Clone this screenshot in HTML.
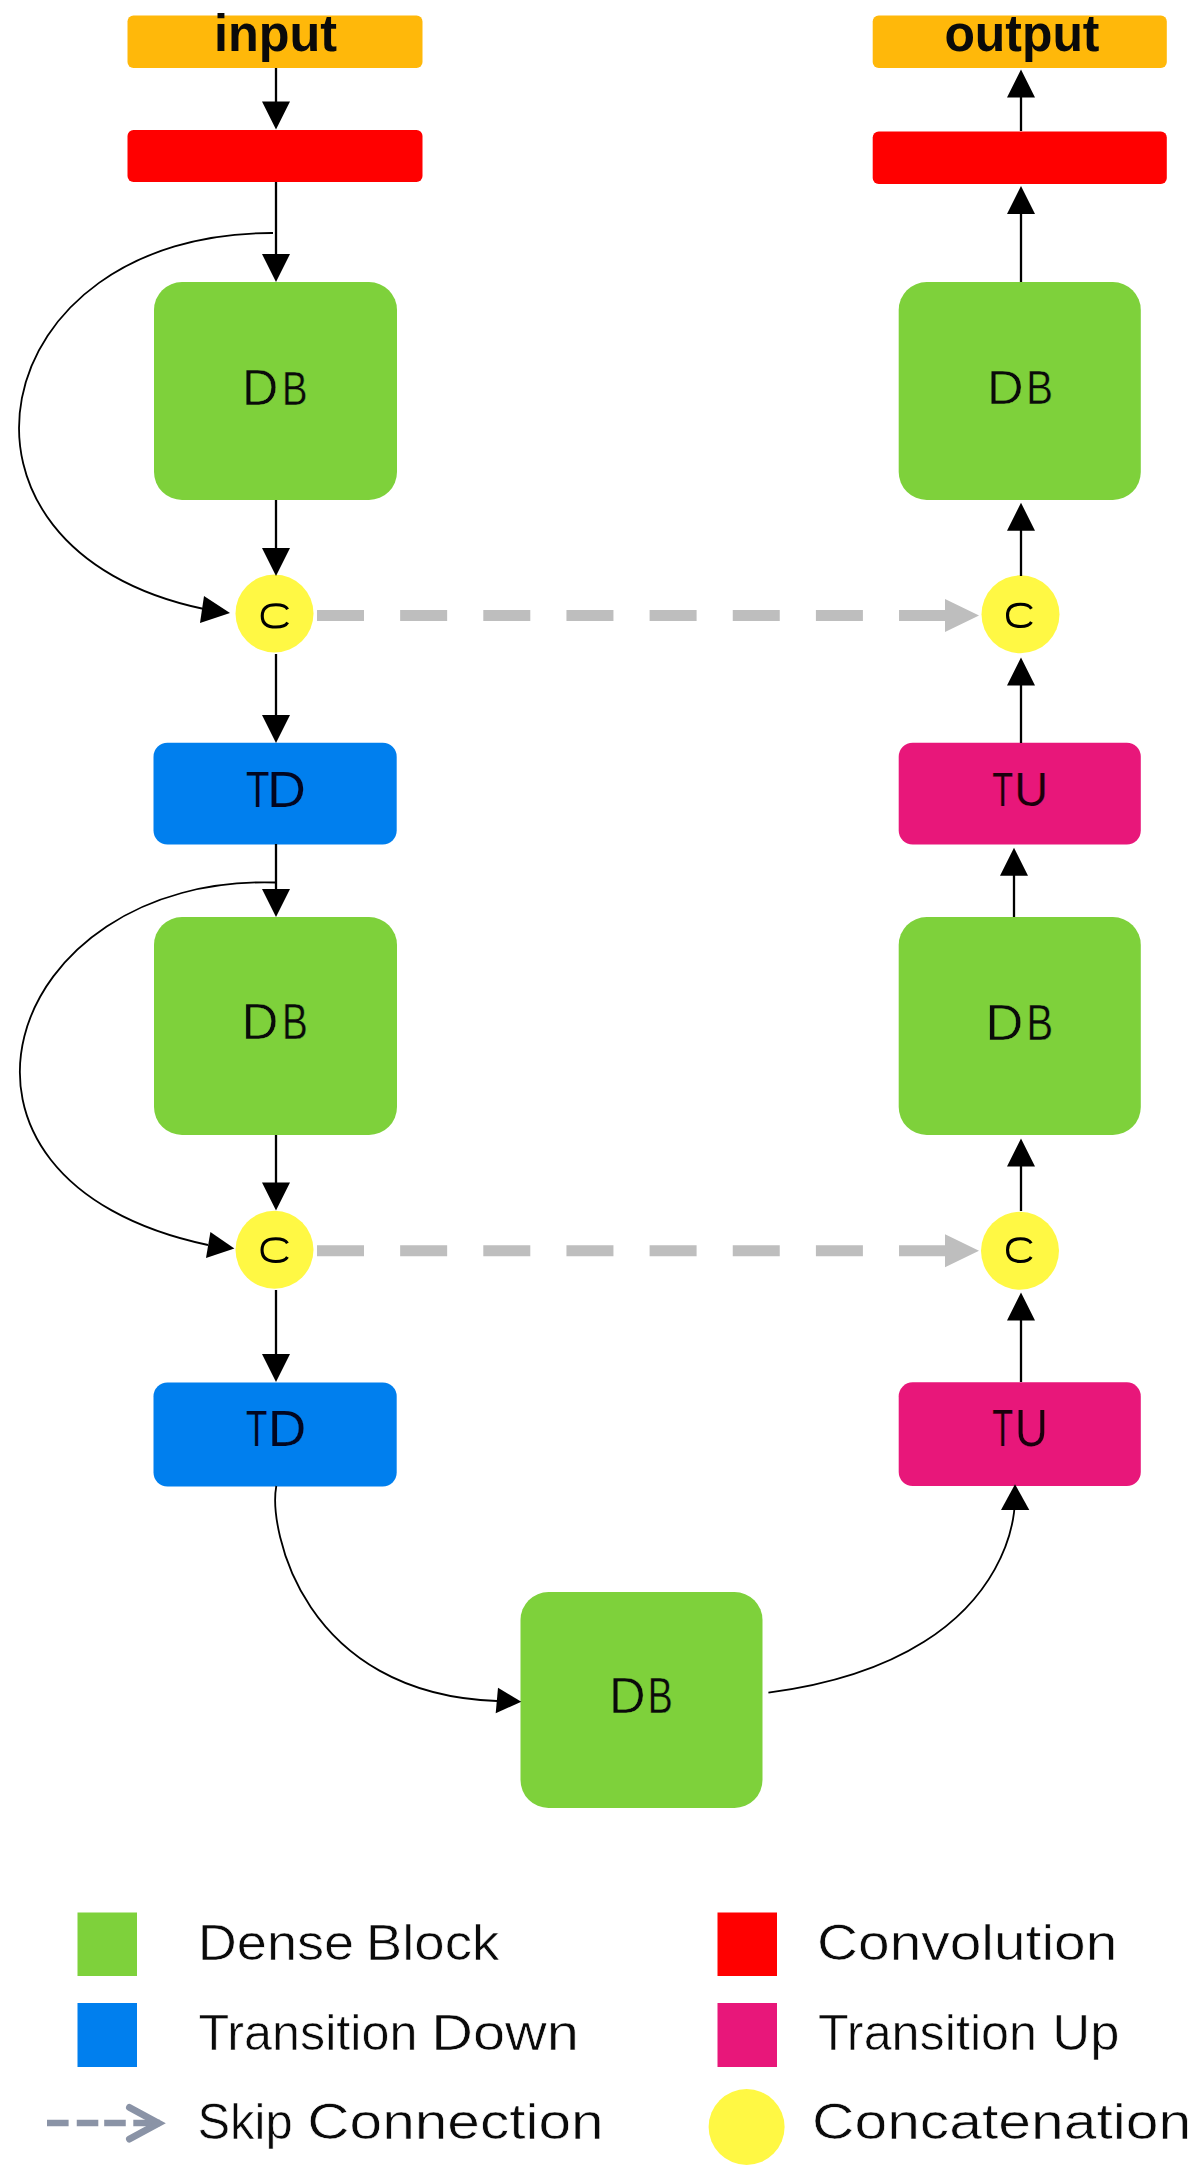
<!DOCTYPE html>
<html><head><meta charset="utf-8"><title>FC-DenseNet diagram</title>
<style>html,body{margin:0;padding:0;background:#fff;width:1200px;height:2167px;overflow:hidden}text{font-family:"Liberation Sans", sans-serif}</style>
</head><body>
<svg width="1200" height="2167" viewBox="0 0 1200 2167" style="display:block">
<rect x="127.5" y="15.5" width="295.00" height="52.50" rx="6" fill="#FFB80A"/>
<rect x="872.7" y="15.6" width="294.10" height="52.40" rx="6" fill="#FFB80A"/>
<rect x="127.5" y="130" width="295.00" height="52.00" rx="6" fill="#FF0000"/>
<rect x="872.7" y="131.5" width="294.10" height="52.50" rx="6" fill="#FF0000"/>
<rect x="154" y="282" width="243.00" height="218.00" rx="28" fill="#7ED13B"/>
<rect x="154" y="917" width="243.00" height="218.00" rx="28" fill="#7ED13B"/>
<rect x="898.7" y="282" width="242.10" height="218.00" rx="28" fill="#7ED13B"/>
<rect x="898.7" y="917" width="242.10" height="218.00" rx="28" fill="#7ED13B"/>
<rect x="520.5" y="1592" width="242.00" height="216.00" rx="28" fill="#7ED13B"/>
<rect x="153.5" y="742.7" width="243.20" height="101.80" rx="14" fill="#007FEE"/>
<rect x="153.5" y="1382.5" width="243.20" height="104.00" rx="14" fill="#007FEE"/>
<rect x="898.7" y="742.7" width="242.10" height="101.90" rx="14" fill="#E8177A"/>
<rect x="898.7" y="1382.3" width="242.10" height="103.70" rx="14" fill="#E8177A"/>
<circle cx="274.5" cy="613.5" r="39" fill="#FFF844"/>
<circle cx="1020.5" cy="614.3" r="39" fill="#FFF844"/>
<circle cx="274.5" cy="1249.8" r="39" fill="#FFF844"/>
<circle cx="1020" cy="1250.8" r="39" fill="#FFF844"/>
<line x1="276" y1="68" x2="276" y2="103.5" stroke="#000" stroke-width="2.3"/>
<polygon points="262.00,101.50 290.00,101.50 276.00,129.50" fill="#000"/>
<line x1="276" y1="182" x2="276" y2="256" stroke="#000" stroke-width="2.3"/>
<polygon points="262.00,254.00 290.00,254.00 276.00,282.00" fill="#000"/>
<line x1="276" y1="500" x2="276" y2="550" stroke="#000" stroke-width="2.3"/>
<polygon points="262.00,548.00 290.00,548.00 276.00,576.00" fill="#000"/>
<line x1="276" y1="654" x2="276" y2="717" stroke="#000" stroke-width="2.3"/>
<polygon points="262.00,715.00 290.00,715.00 276.00,743.00" fill="#000"/>
<line x1="276" y1="844" x2="276" y2="891" stroke="#000" stroke-width="2.3"/>
<polygon points="262.00,889.00 290.00,889.00 276.00,917.00" fill="#000"/>
<line x1="276" y1="1135" x2="276" y2="1184.5" stroke="#000" stroke-width="2.3"/>
<polygon points="262.00,1182.50 290.00,1182.50 276.00,1210.50" fill="#000"/>
<line x1="276" y1="1290" x2="276" y2="1356" stroke="#000" stroke-width="2.3"/>
<polygon points="262.00,1354.00 290.00,1354.00 276.00,1382.00" fill="#000"/>
<line x1="1021" y1="1382" x2="1021" y2="1318.5" stroke="#000" stroke-width="2.3"/>
<polygon points="1007.00,1320.50 1035.00,1320.50 1021.00,1292.50" fill="#000"/>
<line x1="1021" y1="1211" x2="1021" y2="1164.5" stroke="#000" stroke-width="2.3"/>
<polygon points="1007.00,1166.50 1035.00,1166.50 1021.00,1138.50" fill="#000"/>
<line x1="1014" y1="917" x2="1014" y2="873.7" stroke="#000" stroke-width="2.3"/>
<polygon points="1000.00,875.70 1028.00,875.70 1014.00,847.70" fill="#000"/>
<line x1="1021" y1="743" x2="1021" y2="683.5" stroke="#000" stroke-width="2.3"/>
<polygon points="1007.00,685.50 1035.00,685.50 1021.00,657.50" fill="#000"/>
<line x1="1021" y1="576" x2="1021" y2="528.7" stroke="#000" stroke-width="2.3"/>
<polygon points="1007.00,530.70 1035.00,530.70 1021.00,502.70" fill="#000"/>
<line x1="1021" y1="282" x2="1021" y2="212" stroke="#000" stroke-width="2.3"/>
<polygon points="1007.00,214.00 1035.00,214.00 1021.00,186.00" fill="#000"/>
<line x1="1021" y1="131" x2="1021" y2="95.6" stroke="#000" stroke-width="2.3"/>
<polygon points="1007.00,97.60 1035.00,97.60 1021.00,69.60" fill="#000"/>
<path d="M273,233 C-18.48,231.91 -82.17,549.22 204,609" fill="none" stroke="#000" stroke-width="1.8"/>
<polygon points="230.00,613.00 204.00,596.00 200.00,623.00" fill="#000"/>
<path d="M275.5,882.5 C2.55,874.10 -98.68,1179.92 208,1245" fill="none" stroke="#000" stroke-width="1.8"/>
<polygon points="234.40,1248.50 210.40,1231.90 206.00,1258.00" fill="#000"/>
<path d="M276.3,1486 C268.33,1529.51 302.77,1694.09 497,1701" fill="none" stroke="#000" stroke-width="1.8"/>
<polygon points="521.30,1701.70 498.00,1687.70 495.70,1713.30" fill="#000"/>
<path d="M768.4,1692.7 C1047.23,1655.93 1010.93,1461.37 1015,1510" fill="none" stroke="#000" stroke-width="1.8"/>
<polygon points="1015.00,1484.20 1001.00,1510.00 1029.30,1510.00" fill="#000"/>
<line x1="317" y1="615.5" x2="950" y2="615.5" stroke="#BEBEBE" stroke-width="11" stroke-dasharray="47 36.15"/>
<polygon points="979.00,615.50 945.00,599.00 945.00,632.00" fill="#BEBEBE"/>
<line x1="317" y1="1250.8" x2="950" y2="1250.8" stroke="#BEBEBE" stroke-width="11" stroke-dasharray="47 36.15"/>
<polygon points="979.00,1250.80 945.00,1234.30 945.00,1267.30" fill="#BEBEBE"/>
<path d="M287.65,609.25 C285.65,605.75 281.65,604.75 275.95,604.75 C265.25,604.75 262.25,609.90 262.25,615.90 C262.25,621.90 265.25,627.05 275.95,627.05 C281.65,627.05 285.65,626.05 287.65,622.55" fill="none" stroke="#000" stroke-width="3.1"/>
<path d="M1031.45,608.80 C1029.45,605.30 1025.45,604.30 1020.50,604.30 C1010.55,604.30 1007.55,609.38 1007.55,615.38 C1007.55,621.38 1010.55,626.45 1020.50,626.45 C1025.45,626.45 1029.45,625.45 1031.45,621.95" fill="none" stroke="#000" stroke-width="3.1"/>
<path d="M287.45,1243.30 C285.45,1239.80 281.45,1238.80 275.75,1238.80 C265.05,1238.80 262.05,1244.12 262.05,1250.12 C262.05,1256.12 265.05,1261.45 275.75,1261.45 C281.45,1261.45 285.45,1260.45 287.45,1256.95" fill="none" stroke="#000" stroke-width="3.1"/>
<path d="M1031.20,1243.30 C1029.20,1239.80 1025.20,1238.80 1020.38,1238.80 C1010.55,1238.80 1007.55,1244.12 1007.55,1250.12 C1007.55,1256.12 1010.55,1261.45 1020.38,1261.45 C1025.20,1261.45 1029.20,1260.45 1031.20,1256.95" fill="none" stroke="#000" stroke-width="3.1"/>
<text x="214.00" y="51.00" font-size="52.00" font-weight="bold" textLength="123.10" lengthAdjust="spacingAndGlyphs" fill="#0A0A0A">input</text>
<text x="944.40" y="51.00" font-size="52.00" font-weight="bold" textLength="155.05" lengthAdjust="spacingAndGlyphs" fill="#0A0A0A">output</text>
<text x="242.10" y="404.60" font-size="50.39" textLength="36.28" lengthAdjust="spacingAndGlyphs" fill="#0A0A0A" stroke="#7ED13B" stroke-width="0.45">D</text>
<text x="281.90" y="404.60" font-size="48.97" textLength="25.48" lengthAdjust="spacingAndGlyphs" fill="#0A0A0A" stroke="#7ED13B" stroke-width="0.45">B</text>
<text x="987.00" y="404.30" font-size="48.89" textLength="36.54" lengthAdjust="spacingAndGlyphs" fill="#0A0A0A" stroke="#7ED13B" stroke-width="0.45">D</text>
<text x="1026.30" y="404.30" font-size="48.89" textLength="26.72" lengthAdjust="spacingAndGlyphs" fill="#0A0A0A" stroke="#7ED13B" stroke-width="0.45">B</text>
<text x="241.70" y="1039.30" font-size="50.16" textLength="36.54" lengthAdjust="spacingAndGlyphs" fill="#0A0A0A" stroke="#7ED13B" stroke-width="0.45">D</text>
<text x="282.00" y="1039.30" font-size="50.16" textLength="25.74" lengthAdjust="spacingAndGlyphs" fill="#0A0A0A" stroke="#7ED13B" stroke-width="0.45">B</text>
<text x="985.60" y="1040.00" font-size="50.16" textLength="37.78" lengthAdjust="spacingAndGlyphs" fill="#0A0A0A" stroke="#7ED13B" stroke-width="0.45">D</text>
<text x="1026.40" y="1040.00" font-size="50.16" textLength="26.56" lengthAdjust="spacingAndGlyphs" fill="#0A0A0A" stroke="#7ED13B" stroke-width="0.45">B</text>
<text x="609.00" y="1712.70" font-size="50.16" textLength="36.54" lengthAdjust="spacingAndGlyphs" fill="#0A0A0A" stroke="#7ED13B" stroke-width="0.45">D</text>
<text x="647.70" y="1712.70" font-size="50.16" textLength="24.98" lengthAdjust="spacingAndGlyphs" fill="#0A0A0A" stroke="#7ED13B" stroke-width="0.45">B</text>
<text x="246.00" y="806.50" font-size="49.35" textLength="23.46" lengthAdjust="spacingAndGlyphs" fill="#020620" stroke="#007FEE" stroke-width="0.2">T</text>
<text x="267.00" y="806.50" font-size="49.35" textLength="38.86" lengthAdjust="spacingAndGlyphs" fill="#020620" stroke="#007FEE" stroke-width="0.2">D</text>
<text x="246.00" y="1446.00" font-size="50.79" textLength="21.30" lengthAdjust="spacingAndGlyphs" fill="#020620" stroke="#007FEE" stroke-width="0.2">T</text>
<text x="267.70" y="1446.00" font-size="50.79" textLength="38.44" lengthAdjust="spacingAndGlyphs" fill="#020620" stroke="#007FEE" stroke-width="0.2">D</text>
<text x="992.30" y="806.30" font-size="48.89" textLength="20.80" lengthAdjust="spacingAndGlyphs" fill="#1A000C" stroke="#E8177A" stroke-width="0.2">T</text>
<text x="1014.30" y="806.30" font-size="48.93" textLength="33.86" lengthAdjust="spacingAndGlyphs" fill="#1A000C" stroke="#E8177A" stroke-width="0.2">U</text>
<text x="992.30" y="1446.00" font-size="51.57" textLength="20.80" lengthAdjust="spacingAndGlyphs" fill="#1A000C" stroke="#E8177A" stroke-width="0.2">T</text>
<text x="1015.00" y="1446.00" font-size="51.49" textLength="32.86" lengthAdjust="spacingAndGlyphs" fill="#1A000C" stroke="#E8177A" stroke-width="0.2">U</text>
<rect x="77.5" y="1912.5" width="59.50" height="63.50" rx="0" fill="#7ED13B"/>
<rect x="77.5" y="2003" width="59.50" height="64.00" rx="0" fill="#007FEE"/>
<rect x="717.5" y="1912.5" width="59.50" height="63.50" rx="0" fill="#FF0000"/>
<rect x="717.5" y="2003" width="59.50" height="64.00" rx="0" fill="#E8177A"/>
<circle cx="746.6" cy="2127" r="38" fill="#FFF844"/>
<rect x="47" y="2119.75" width="21.60" height="6.50" rx="0" fill="#8A93A6"/>
<rect x="76.75" y="2119.75" width="21.55" height="6.50" rx="0" fill="#8A93A6"/>
<rect x="104.2" y="2119.75" width="21.55" height="6.50" rx="0" fill="#8A93A6"/>
<rect x="133.3" y="2119.75" width="26.70" height="6.50" rx="0" fill="#8A93A6"/>
<polyline points="129.5,2107.5 158.5,2123.25 129.5,2139" fill="none" stroke="#8A93A6" stroke-width="7" stroke-linecap="round" stroke-linejoin="miter"/>
<text x="197.75" y="1960.00" font-size="49.50" textLength="156.40" lengthAdjust="spacingAndGlyphs" fill="#0A0A0A" stroke="#FFFFFF" stroke-width="0.6">Dense</text>
<text x="365.75" y="1960.00" font-size="49.50" textLength="133.60" lengthAdjust="spacingAndGlyphs" fill="#0A0A0A" stroke="#FFFFFF" stroke-width="0.6">Block</text>
<text x="198.50" y="2050.00" font-size="49.50" textLength="218.90" lengthAdjust="spacingAndGlyphs" fill="#0A0A0A" stroke="#FFFFFF" stroke-width="0.6">Transition</text>
<text x="431.25" y="2050.00" font-size="49.50" textLength="147.70" lengthAdjust="spacingAndGlyphs" fill="#0A0A0A" stroke="#FFFFFF" stroke-width="0.6">Down</text>
<text x="307.25" y="2139.00" font-size="49.50" textLength="296.40" lengthAdjust="spacingAndGlyphs" fill="#0A0A0A" stroke="#FFFFFF" stroke-width="0.6">Connection</text>
<text x="197.50" y="2139.00" font-size="49.50" textLength="95.10" lengthAdjust="spacingAndGlyphs" fill="#0A0A0A" stroke="#FFFFFF" stroke-width="0.6">Skip</text>
<text x="817.00" y="1960.00" font-size="49.50" textLength="300.26" lengthAdjust="spacingAndGlyphs" fill="#0A0A0A" stroke="#FFFFFF" stroke-width="0.6">Convolution</text>
<text x="818.00" y="2050.00" font-size="49.50" textLength="219.06" lengthAdjust="spacingAndGlyphs" fill="#0A0A0A" stroke="#FFFFFF" stroke-width="0.6">Transition</text>
<text x="1052.30" y="2050.00" font-size="49.50" textLength="67.20" lengthAdjust="spacingAndGlyphs" fill="#0A0A0A" stroke="#FFFFFF" stroke-width="0.6">Up</text>
<text x="812.00" y="2139.00" font-size="49.50" textLength="379.24" lengthAdjust="spacingAndGlyphs" fill="#0A0A0A" stroke="#FFFFFF" stroke-width="0.6">Concatenation</text>
</svg>
</body></html>
